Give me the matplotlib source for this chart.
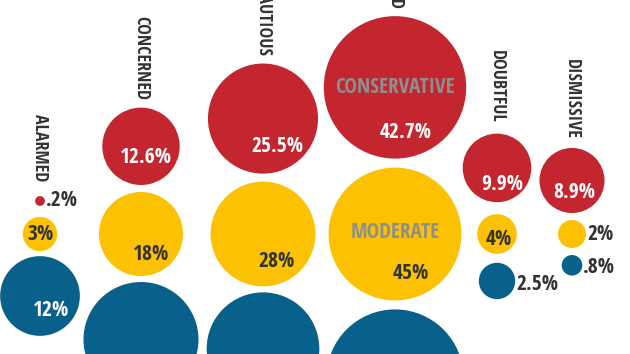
import matplotlib
matplotlib.use("Agg")
import matplotlib.pyplot as plt
from matplotlib.patches import Circle
from matplotlib import font_manager
import numpy as np

# ---- data ----
segments = ["ALARMED", "CONCERNED", "CAUTIOUS", "DISENGAGED", "DOUBTFUL", "DISMISSIVE"]
conservative = [0.2, 12.6, 25.5, 42.7, 9.9, 8.9]
moderate = [3, 18, 28, 45, 4, 2]
liberal = [12, 25, 24, 35.5, 2.5, 0.8]
conservative_labels = [".2%", "12.6%", "25.5%", "42.7%", "9.9%", "8.9%"]
moderate_labels = ["3%", "18%", "28%", "45%", "4%", "2%"]
liberal_labels = ["12%", "", "", "", "2.5%", ".8%"]
row_names = ["CONSERVATIVE", "MODERATE", "LIBERAL"]

# ---- layout / style ----
col_x = [40, 141, 263, 395, 497, 572]
mid_y = 234
scale = {"con": 10.9, "mod": 9.9, "lib": 11.5}
gap_top = [11, 7, 8, 9, 12, 7]
gap_bot = [5, 6, 6, 9, 9, 7]
label_gap = [15, 8, 8, 6, 11, 9]
RED, YEL, BLUE = "#C3262E", "#FCC100", "#08618A"
DARK = "#333333"
GREY = "#8E8E8E"
# label offsets as fractions of radius (None -> outside right)
off_con = [None, (0.13, 0.28), (0.27, 0.51), (0.15, 0.63), (0.15, 0.47), (0.06, 0.37)]
off_mod = [(0.02, 0.04), (0.24, 0.48), (0.25, 0.52), (0.24, 0.6), (0.1, 0.3), None]
off_lib = [(0.27, 0.37), (0.25, 0.5), (0.25, 0.5), (0.25, 0.5), None, None]
out_dy_con = [0, 0, 0, 0, 0, 0]
out_dy_mod = [0, 0, 0, 0, 0, 1]
out_dy_lib = [0, 0, 0, 0, 4, 2.5]

prefs = ["Open Sans Condensed", "PT Sans Narrow", "Fira Sans Condensed",
         "Roboto Condensed", "Asap Condensed", "Archivo Narrow", "Barlow Condensed"]
bold_fams = {f.name for f in font_manager.fontManager.ttflist
             if (isinstance(f.weight, int) and f.weight >= 600) or f.weight in ("bold", "heavy", "black")}
FONT = next((p for p in prefs if p in bold_fams), "DejaVu Sans")

fig = plt.figure(figsize=(6.3, 3.54), dpi=100)
ax = fig.add_axes([0, 0, 1, 1])
ax.set_xlim(0, 630)
ax.set_ylim(354, 0)
ax.axis("off")

def txt(x, y, s, color, size, ha="center", va="center", rot=0):
    if not s:
        return
    ax.text(x, y, s, color=color, fontsize=size, ha=ha, va=va, rotation=rot,
            family=[FONT, "DejaVu Sans"], fontweight="bold")

r_mod = [scale["mod"] * np.sqrt(v) for v in moderate]
r_con = [scale["con"] * np.sqrt(v) for v in conservative]
r_lib = [scale["lib"] * np.sqrt(v) for v in liberal]

for i, x in enumerate(col_x):
    ym = mid_y
    yc = mid_y - r_mod[i] - gap_top[i] - r_con[i]
    yl = mid_y + r_mod[i] + gap_bot[i] + r_lib[i]
    rows = [
        (yc, r_con[i], RED, conservative_labels[i], off_con[i], "white", out_dy_con[i]),
        (ym, r_mod[i], YEL, moderate_labels[i], off_mod[i], DARK, out_dy_mod[i]),
        (yl, r_lib[i], BLUE, liberal_labels[i], off_lib[i], "white", out_dy_lib[i]),
    ]
    for (cy, r, col, lab, off, tcol, ody) in rows:
        ax.add_patch(Circle((x, cy), r, facecolor=col, edgecolor="none"))
        if off is None:
            txt(x + r + 1, cy + ody, lab, DARK, 15.5, ha="left")
        else:
            txt(x + off[0] * r, cy + off[1] * r, lab, tcol, 15.5)
    # column label
    txt(x, yc - r_con[i] - label_gap[i], segments[i], DARK, 13, va="bottom", rot=270)
    if i == 3:
        txt(x, yc, row_names[0], GREY, 15.2)
        txt(x, ym - 1, row_names[1], GREY, 15.2)

fig.savefig("out.png", dpi=100)
